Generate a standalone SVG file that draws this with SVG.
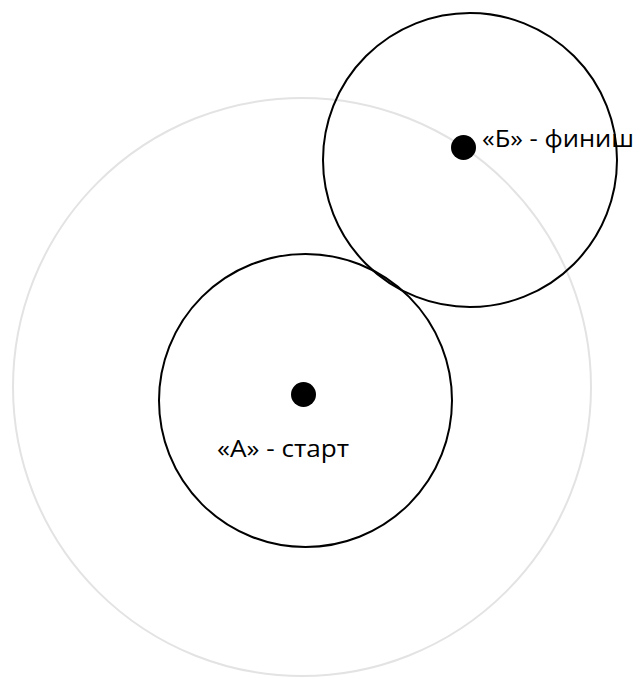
<svg xmlns="http://www.w3.org/2000/svg" width="638" height="677" viewBox="0 0 638 677">
  <style>
    .outer { fill: none; stroke: #e3e3e3; stroke-width: 2; }
    .zone { fill: none; stroke: #000; stroke-width: 2; }
    .point { fill: #000; }
    .label { font-family: "Open Sans", "Noto Sans", "DejaVu Sans", sans-serif; font-size: 24px; fill: #000; }
  </style>
  <rect width="638" height="677" fill="#fff"/>
  <g id="outer-circle">
    <circle class="outer" cx="302" cy="387" r="289"/>
  </g>
  <g id="circle-a">
    <circle class="zone" cx="305.5" cy="400.5" r="146.5"/>
  </g>
  <g id="circle-b">
    <circle class="zone" cx="470" cy="160" r="147"/>
  </g>
  <g id="point-a">
    <circle class="point" cx="303.5" cy="394.5" r="12.5"/>
    <text class="label" x="217" y="457" textLength="132" lengthAdjust="spacingAndGlyphs">«А» - старт</text>
  </g>
  <g id="point-b">
    <circle class="point" cx="463.5" cy="147.5" r="12.5"/>
    <text class="label" x="482" y="147" textLength="152" lengthAdjust="spacingAndGlyphs">«Б» - финиш</text>
  </g>
</svg>
